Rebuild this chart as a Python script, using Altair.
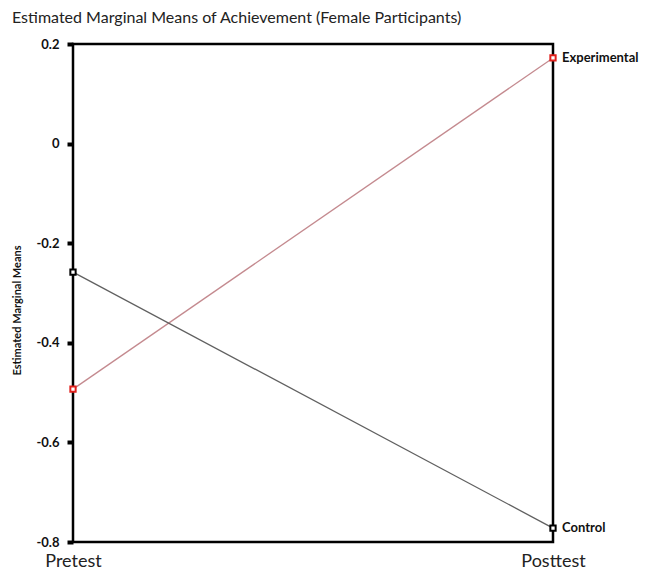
import altair as alt
import pandas as pd

times = ["Pretest", "Posttest"]
groups = ["Experimental", "Control"]
experimental = [-0.493, 0.172]
control = [-0.258, -0.772]
y_ticks = [-0.8, -0.6, -0.4, -0.2, 0, 0.2]

rows = []
for g, vals in zip(groups, [experimental, control]):
    for t, v in zip(times, vals):
        rows.append({"group": g, "time": t, "value": v})
df = pd.DataFrame(rows)

FONT = "Lato"

x = alt.X("time:N", sort=times, scale=alt.Scale(type="point", padding=0),
          axis=alt.Axis(title=None, labelAngle=0, ticks=False, domain=False,
                        labelFontSize=18, labelColor="#222222", labelFont=FONT,
                        labelPadding=10, grid=False))
y = alt.Y("value:Q", scale=alt.Scale(domain=[-0.8, 0.2], nice=False, zero=False),
          axis=alt.Axis(title="Estimated Marginal Means", values=y_ticks,
                        labelExpr="'' + datum.value", labelFontWeight="bold",
                        labelFontSize=13, labelColor="#111111", labelFont=FONT,
                        tickSize=6, tickWidth=4, tickColor="#000000",
                        labelPadding=8, domain=False, grid=False,
                        titleFontSize=11, titleFontWeight="bold", titleFont=FONT,
                        titleAngle=-90, titleX=-51, titleY=266, titleColor="#111111"))

line_colors = alt.Scale(domain=groups, range=["#c48a8f", "#606060"])
point_colors = alt.Scale(domain=groups, range=["#e0201c", "#000000"])

lines = alt.Chart(df).mark_line(strokeWidth=1.3).encode(
    x=x, y=y, color=alt.Color("group:N", scale=line_colors, legend=None), detail="group:N")

points = alt.Chart(df).mark_point(shape="square", size=28, filled=False, fill="white",
                                  fillOpacity=1, strokeWidth=2, opacity=1).encode(
    x=x, y=y, stroke=alt.Stroke("group:N", scale=point_colors, legend=None))

labels = alt.Chart(df).transform_filter(alt.datum.time == "Posttest").mark_text(
    align="left", baseline="middle", dx=9, fontSize=13, fontWeight="bold",
    font=FONT, color="#111111").encode(x=x, y=y, text="group:N")

chart = alt.layer(lines, points, labels).resolve_scale(
    color="independent", stroke="independent"
).properties(
    width=480, height=498,
    title=alt.TitleParams("Estimated Marginal Means of Achievement (Female Participants)",
                          anchor="start", frame="group", dx=-61, fontSize=16,
                          fontWeight="normal", font=FONT, color="#222222", offset=12),
    autosize=alt.AutoSizeParams(type="none"),
    padding={"left": 65, "top": 36, "right": 91, "bottom": 31},
).configure_view(stroke="#000000", strokeWidth=2.5)

chart.save("out.html", embed_options={"renderer": "svg", "actions": False})
